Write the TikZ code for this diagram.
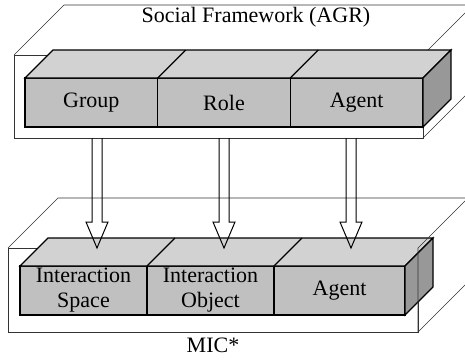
\documentclass[tikz,border=0pt]{standalone}
\usepackage{fontspec}
\setmainfont{Liberation Serif}
\usetikzlibrary{calc,positioning}

\definecolor{boxfront}{RGB}{192,192,192}
\definecolor{boxtop}{RGB}{210,210,210}
\definecolor{boxside}{RGB}{152,152,152}

\tikzset{
  frame/.style={draw=black!80, line width=0.3pt, rectangle, inner sep=0pt, outer sep=0pt},
  wire/.style={draw=black!80, line width=0.3pt},
  face/.style={draw, fill=boxfront, line width=0.6pt, rectangle, inner sep=0pt, outer sep=0pt,
    minimum height=24.5pt, align=center, font=\fontsize{11}{12.5}\selectfont},
  topface/.style={draw, fill=boxtop, line width=0.6pt},
  sideface/.style={draw, fill=boxside, line width=0.6pt},
  label/.style={font=\fontsize{11}{12.5}\selectfont},
  hollow/.style={draw, line width=0.5pt, to path={
    ($(\tikztostart)+(-5,0)$) -- ($(\tikztotarget)+(-5,-26)$) -- ($(\tikztotarget)+(-11,-26)$)
    -- (\tikztotarget) -- ($(\tikztotarget)+(11,-26)$) -- ($(\tikztotarget)+(5,-26)$)
    -- ($(\tikztostart)+(5,0)$)}},
}

\begin{document}
\begin{tikzpicture}[x=0.5pt, y=-0.5pt]
  \useasboundingbox (0,0) rectangle (465,359);
  \clip (0,0) rectangle (465,359);

  % social framework
  \node[frame, minimum width=204.5pt, minimum height=41.5pt, anchor=north west] (sf) at (14,55) {};
  \draw[wire] (sf.north west) -- ++(50,-50) -- ($(sf.north east)+(50,-50)$) -- ++(0,83) -- (sf.south east);
  \draw[wire] (sf.north east) -- ++(50,-50);
  \node[label] (sftitle) at (256,17) {Social Framework (AGR)};

  \node[face, minimum width=66.33pt, anchor=north west] (group) at (25,78) {Group};
  \node[face, minimum width=66.33pt, right=0pt of group] (role) {Role};
  \node[face, minimum width=66.33pt, right=0pt of role] (agent) {Agent};
  \draw[topface] (group.north west) -- ++(28,-28) -- ($(agent.north east)+(28,-28)$) -- (agent.north east) -- cycle;
  \draw[line width=0.6pt] (role.north west) -- ++(28,-28) (agent.north west) -- ++(28,-28);
  \draw[sideface] (agent.north east) -- ++(28,-28) -- ++(0,49) -- (agent.south east) -- cycle;

  % MIC*
  \node[frame, minimum width=205pt, minimum height=42pt, anchor=north west] (mic) at (8,248) {};
  \draw[wire] (mic.north west) -- ++(50,-50) -- ($(mic.north east)+(50,-50)$) -- ++(0,84) -- (mic.south east);
  \node[label] (mictitle) at (213,345) {MIC*};

  \node[face, minimum width=63.5pt, anchor=north west] (ispace) at (20,266) {Interaction\\Space};
  \node[face, minimum width=63.5pt, right=0pt of ispace] (iobject) {Interaction\\Object};
  \node[face, minimum width=65.5pt, right=0pt of iobject] (magent) {Agent};
  \draw[topface] (ispace.north west) -- ++(28,-28) -- ($(magent.north east)+(28,-28)$) -- (magent.north east) -- cycle;
  \draw[line width=0.6pt] (iobject.north west) -- ++(28,-28) (magent.north west) -- ++(28,-28);
  \draw[sideface] (magent.north east) -- ++(28,-28) -- ++(0,49) -- (magent.south east) -- cycle;
  \draw[wire] (mic.south east) -- (mic.north east) -- ++(50,-50);

  % mappings
  \foreach \x/\n in {97/1, 224/2, 351/3} {
    \coordinate (from\n) at (\x,0 |- sf.south);
    \coordinate (to\n) at (\x,0 |- mic.north);
    \draw[hollow] (from\n) to (to\n);
  }
\end{tikzpicture}
\end{document}
